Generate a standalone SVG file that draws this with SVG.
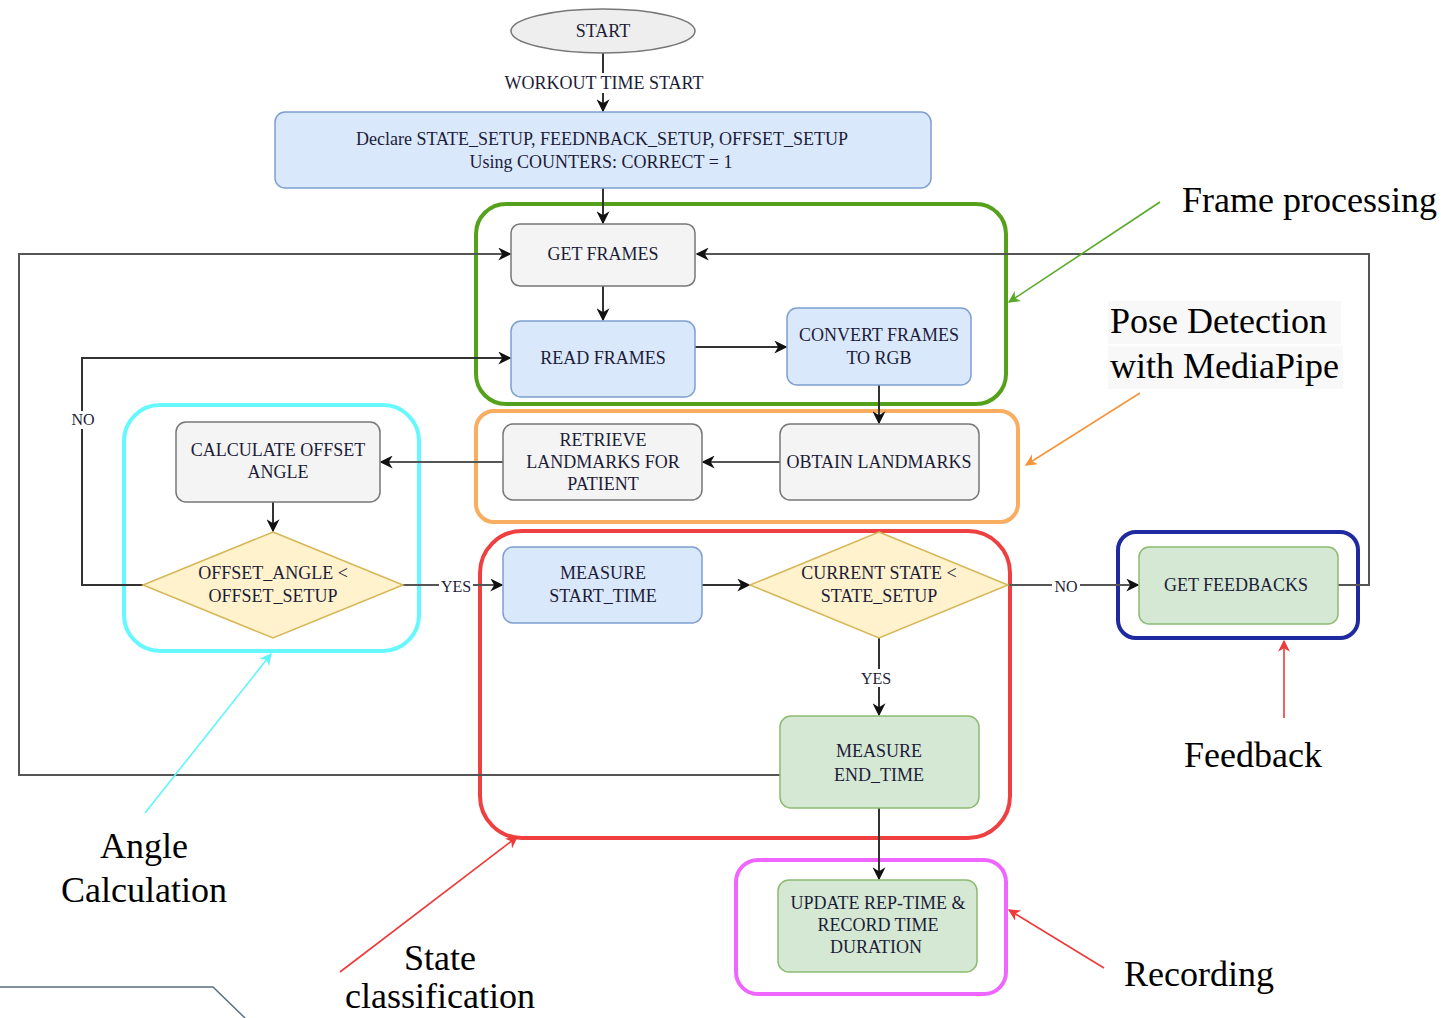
<svg xmlns="http://www.w3.org/2000/svg" width="1452" height="1018" viewBox="0 0 1452 1018">
<style>
.t{font-family:"Liberation Serif","Times New Roman",serif;font-size:18px;fill:#1c1c38;text-anchor:middle}
.lbl{font-family:"Liberation Serif","Times New Roman",serif;font-size:16px;fill:#1c1c38;text-anchor:middle}
.ann{font-family:"Liberation Serif","Times New Roman",serif;font-size:36px;fill:#000}
.blue{fill:#dae8fc;stroke:#7e9fd0;stroke-width:1.5}
.gray{fill:#f4f4f4;stroke:#777;stroke-width:1.5}
.green{fill:#d5e8d4;stroke:#8cbb72;stroke-width:1.5}
.dia{fill:#fff2cc;stroke:#d6b656;stroke-width:1.5}
.grp{fill:none;stroke-width:4}
.c{fill:none;stroke:#333;stroke-width:2}
.cg{fill:none;stroke:#555;stroke-width:2}
.a{fill:none;stroke-width:1.6}
</style>
<defs>
<marker id="ar" viewBox="0 0 10 10" refX="9" refY="5" markerWidth="13" markerHeight="13" markerUnits="userSpaceOnUse" orient="auto"><path d="M0,0 L10,5 L0,10 L3,5 z" fill="#111"/></marker>
<marker id="ag" viewBox="0 0 10 10" refX="9" refY="5" markerWidth="12" markerHeight="12" markerUnits="userSpaceOnUse" orient="auto"><path d="M0,0 L10,5 L0,10 L3,5 z" fill="#5aaa2a"/></marker>
<marker id="ao" viewBox="0 0 10 10" refX="9" refY="5" markerWidth="12" markerHeight="12" markerUnits="userSpaceOnUse" orient="auto"><path d="M0,0 L10,5 L0,10 L3,5 z" fill="#f5953a"/></marker>
<marker id="ac" viewBox="0 0 10 10" refX="9" refY="5" markerWidth="12" markerHeight="12" markerUnits="userSpaceOnUse" orient="auto"><path d="M0,0 L10,5 L0,10 L3,5 z" fill="#5ff5ff"/></marker>
<marker id="arr" viewBox="0 0 10 10" refX="9" refY="5" markerWidth="12" markerHeight="12" markerUnits="userSpaceOnUse" orient="auto"><path d="M0,0 L10,5 L0,10 L3,5 z" fill="#ee3a3a"/></marker>
</defs>
<rect width="1452" height="1018" fill="#fff"/>

<g id="groups">
<rect x="476" y="204" width="530" height="200" rx="30" class="grp" stroke="#55a11b"/>
<rect x="476" y="411" width="542" height="111" rx="18" class="grp" stroke="#f9ad60" stroke-width="3"/>
<rect x="124" y="405" width="295" height="246" rx="36" class="grp" stroke="#66f8ff"/>
<rect x="480" y="531" width="530" height="307" rx="42" class="grp" stroke="#ee4040"/>
<rect x="1118" y="532" width="240" height="106" rx="18" class="grp" stroke="#1f2aa0"/>
<rect x="736" y="860" width="270" height="134" rx="22" class="grp" stroke="#ee66ff"/>
</g>

<g id="connectors">
<path class="c" d="M603,53 V111" marker-end="url(#ar)"/>
<rect x="500" y="73" width="210" height="20" fill="#fff"/>
<text class="t" x="604" y="89">WORKOUT TIME START</text>
<path class="c" d="M603,188 V223" marker-end="url(#ar)"/>
<path class="c" d="M603,286 V320" marker-end="url(#ar)"/>
<path class="c" d="M695,347 L786,347" marker-end="url(#ar)"/>
<path class="c" d="M879,385 V423" marker-end="url(#ar)"/>
<path class="cg" d="M780,462 H703" marker-end="url(#ar)"/>
<path class="cg" d="M503,462 H381" marker-end="url(#ar)"/>
<path class="c" d="M273,502 V531" marker-end="url(#ar)"/>
<path class="c" d="M143,585 H82 V358 H510" marker-end="url(#ar)"/>
<rect x="70" y="411" width="26" height="18" fill="#fff"/>
<text class="lbl" x="83" y="425">NO</text>
<path class="cg" d="M403,585 H502" marker-end="url(#ar)"/>
<rect x="439" y="577" width="34" height="18" fill="#fff"/>
<text class="lbl" x="456" y="592">YES</text>
<path class="c" d="M702,585 H749" marker-end="url(#ar)"/>
<path class="cg" d="M1008,585 H1138" marker-end="url(#ar)"/>
<rect x="1052" y="577" width="28" height="18" fill="#fff"/>
<text class="lbl" x="1066" y="592">NO</text>
<path class="cg" d="M1338,585 H1369 V254 H697" marker-end="url(#ar)"/>
<path class="c" d="M879,638 V715" marker-end="url(#ar)"/>
<rect x="858" y="669" width="36" height="18" fill="#fff"/>
<text class="lbl" x="876" y="684">YES</text>
<path class="cg" d="M780,775 H19 V254 H510" marker-end="url(#ar)"/>
<path class="c" d="M879,808 V879" marker-end="url(#ar)"/>
</g>

<g id="start">
<ellipse cx="603" cy="31" rx="92" ry="22" fill="#eee" stroke="#777" stroke-width="1.5"/>
<text class="t" x="603" y="37">START</text>
</g>
<g id="declare">
<rect x="275" y="112" width="656" height="76" rx="10" class="blue"/>
<text class="t" x="602" y="145">Declare STATE_SETUP, FEEDNBACK_SETUP, OFFSET_SETUP</text>
<text class="t" x="601" y="168">Using COUNTERS: CORRECT = 1</text>
</g>
<g id="get-frames">
<rect x="511" y="224" width="184" height="62" rx="9" class="gray"/>
<text class="t" x="603" y="260">GET FRAMES</text>
</g>
<g id="read-frames">
<rect x="511" y="321" width="184" height="76" rx="10" class="blue"/>
<text class="t" x="603" y="364">READ FRAMES</text>
</g>
<g id="convert">
<rect x="787" y="308" width="184" height="77" rx="10" class="blue"/>
<text class="t" x="879" y="341">CONVERT FRAMES</text>
<text class="t" x="879" y="364">TO RGB</text>
</g>
<g id="obtain">
<rect x="780" y="424" width="199" height="76" rx="10" class="gray"/>
<text class="t" x="879" y="468">OBTAIN LANDMARKS</text>
</g>
<g id="retrieve">
<rect x="503" y="424" width="199" height="76" rx="10" class="gray"/>
<text class="t" x="603" y="446">RETRIEVE</text>
<text class="t" x="603" y="468">LANDMARKS FOR</text>
<text class="t" x="603" y="490">PATIENT</text>
</g>
<g id="calc">
<rect x="176" y="422" width="204" height="80" rx="10" class="gray"/>
<text class="t" x="278" y="456">CALCULATE OFFSET</text>
<text class="t" x="278" y="478">ANGLE</text>
</g>
<g id="offset-dec">
<path d="M273,532 L403,585 L273,638 L143,585 z" class="dia"/>
<text class="t" x="273" y="579">OFFSET_ANGLE &lt;</text>
<text class="t" x="273" y="602">OFFSET_SETUP</text>
</g>
<g id="measure-start">
<rect x="503" y="547" width="199" height="76" rx="10" class="blue"/>
<text class="t" x="603" y="579">MEASURE</text>
<text class="t" x="603" y="602">START_TIME</text>
</g>
<g id="state-dec">
<path d="M879,532 L1008,585 L879,638 L750,585 z" class="dia"/>
<text class="t" x="879" y="579">CURRENT STATE &lt;</text>
<text class="t" x="879" y="602">STATE_SETUP</text>
</g>
<g id="feedbacks">
<rect x="1139" y="547" width="199" height="77" rx="10" class="green"/>
<text class="t" x="1236" y="591">GET FEEDBACKS</text>
</g>
<g id="measure-end">
<rect x="780" y="716" width="199" height="92" rx="11" class="green"/>
<text class="t" x="879" y="757">MEASURE</text>
<text class="t" x="879" y="781">END_TIME</text>
</g>
<g id="update">
<rect x="778" y="880" width="199" height="92" rx="11" class="green"/>
<text class="t" x="878" y="909">UPDATE REP-TIME &amp;</text>
<text class="t" x="878" y="931">RECORD TIME</text>
<text class="t" x="876" y="953">DURATION</text>
</g>

<g id="annotations">
<path class="a" stroke="#5aaa2a" d="M1160,202 L1009,302" marker-end="url(#ag)"/>
<text class="ann" x="1182" y="212">Frame processing</text>
<rect x="1108" y="301" width="233" height="43" fill="#f8f8f8"/>
<rect x="1108" y="346" width="235" height="43" fill="#f8f8f8"/>
<text class="ann" x="1110" y="333">Pose Detection</text>
<text class="ann" x="1110" y="378">with MediaPipe</text>
<path class="a" stroke="#f5953a" d="M1140,393 L1026,465" marker-end="url(#ao)"/>
<path class="a" stroke="#ee3a3a" d="M1284,718 L1284,641" marker-end="url(#arr)"/>
<text class="ann" x="1253" y="767" text-anchor="middle">Feedback</text>
<path class="a" stroke="#ee3a3a" d="M1104,968 L1009,910" marker-end="url(#arr)"/>
<text class="ann" x="1124" y="986">Recording</text>
<path class="a" stroke="#5ff5ff" d="M145,813 L271,654" marker-end="url(#ac)"/>
<text class="ann" x="144" y="858" text-anchor="middle">Angle</text>
<text class="ann" x="144" y="902" text-anchor="middle">Calculation</text>
<path class="a" stroke="#ee3a3a" d="M340,972 L517,837" marker-end="url(#arr)"/>
<text class="ann" x="440" y="970" text-anchor="middle">State</text>
<text class="ann" x="440" y="1008" text-anchor="middle">classification</text>
<path d="M0,987 H213 L245,1018" fill="none" stroke="#5a7080" stroke-width="1.5"/>
</g>
</svg>
